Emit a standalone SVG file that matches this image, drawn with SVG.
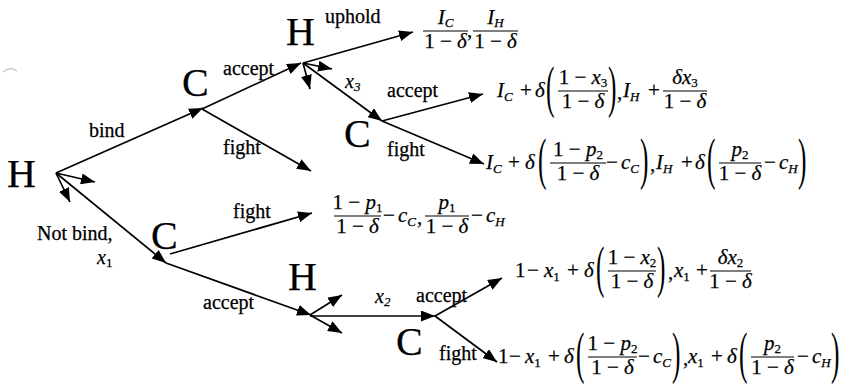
<svg xmlns="http://www.w3.org/2000/svg" width="848" height="391" viewBox="0 0 848 391">
<defs>
<style>
.t{font-family:"Liberation Serif","Times New Roman",serif;fill:#000;stroke:#000;stroke-width:0.25}
.m{font-size:21px}
.it{font-style:italic}
.sb{font-size:13px}
.lb{font-size:20px}
.nd{font-size:40px}
.pr{font-size:22px;stroke:none}
.bar{stroke:#000;stroke-width:1.1}
.edge line{stroke:#000;stroke-width:1.7;marker-end:url(#ah)}
</style>
<marker id="ah" viewBox="0 0 14 11" refX="14" refY="5.5" markerWidth="14" markerHeight="11" markerUnits="userSpaceOnUse" orient="auto"><path d="M0,0 L14,5.5 L0,11 z" fill="#000"/></marker>
</defs>
<rect width="848" height="391" fill="#fff"/>
<path d="M3,72 Q10,66 17,71" fill="none" stroke="#aaa" stroke-width="1"/>

<g id="connectors" class="edge">
<line x1="56" y1="173" x2="203" y2="108"/>
<line x1="56" y1="173" x2="95" y2="182"/>
<line x1="56" y1="173" x2="70" y2="202"/>
<line x1="56" y1="173" x2="166" y2="263"/>
<line x1="202" y1="109" x2="301" y2="63"/>
<line x1="202" y1="109" x2="311" y2="171"/>
<line x1="303" y1="63" x2="413" y2="32"/>
<line x1="303" y1="63" x2="332" y2="69"/>
<line x1="303" y1="63" x2="310" y2="89"/>
<line x1="303" y1="63" x2="382" y2="121"/>
<line x1="382" y1="121" x2="483" y2="94"/>
<line x1="382" y1="121" x2="484" y2="164"/>
<line x1="170" y1="254" x2="312" y2="213"/>
<line x1="166" y1="263" x2="311" y2="315"/>
<line x1="310" y1="315" x2="342" y2="295"/>
<line x1="310" y1="315" x2="342" y2="333"/>
<line x1="310" y1="316" x2="435" y2="316"/>
<line x1="435" y1="316" x2="502" y2="278"/>
<line x1="435" y1="316" x2="497" y2="362"/>
</g>

<g id="labels">
<text class="t lb" x="89" y="137">bind</text>
<text class="t lb" x="223" y="75">accept</text>
<text class="t lb" x="223" y="154">fight</text>
<text class="t lb" x="325" y="23">uphold</text>
<text class="t lb" x="345" y="88"><tspan class="it">x</tspan><tspan class="sb it" dy="3">3</tspan></text>
<text class="t lb" x="387" y="97">accept</text>
<text class="t lb" x="387" y="156">fight</text>
<text class="t lb" x="37" y="240">Not bind,</text>
<text class="t lb" x="97" y="264"><tspan class="it">x</tspan><tspan class="sb" dy="3">1</tspan></text>
<text class="t lb" x="233" y="218">fight</text>
<text class="t lb" x="203" y="309">accept</text>
<text class="t lb" x="375" y="303"><tspan class="it">x</tspan><tspan class="sb it" dy="3">2</tspan></text>
<text class="t lb" x="416" y="302">accept</text>
<text class="t lb" x="439" y="360">fight</text>
</g>

<g id="n-H1"><text class="t nd" x="7" y="187">H</text></g>
<g id="n-C1"><text class="t nd" x="182" y="96">C</text></g>
<g id="n-H2"><text class="t nd" x="286" y="45">H</text></g>
<g id="n-C3"><text class="t nd" x="344" y="147">C</text></g>
<g id="n-C2"><text class="t nd" x="151" y="249">C</text></g>
<g id="n-H3"><text class="t nd" x="288" y="290">H</text></g>
<g id="n-C4"><text class="t nd" x="396" y="355">C</text></g>

<g id="pay-uphold">
<line class="bar" x1="423" y1="31" x2="468" y2="31"/>
<text class="t m" x="445.5" y="24" text-anchor="middle"><tspan class="it">I</tspan><tspan class="sb it" dy="3">C</tspan></text>
<text class="t m" x="445.5" y="48" text-anchor="middle">1 − <tspan class="it">δ</tspan></text>
<text class="t m" x="467" y="37">,</text>
<line class="bar" x1="473" y1="31" x2="518" y2="31"/>
<text class="t m" x="495.5" y="24" text-anchor="middle"><tspan class="it">I</tspan><tspan class="sb it" dy="3">H</tspan></text>
<text class="t m" x="495.5" y="48" text-anchor="middle">1 − <tspan class="it">δ</tspan></text>
</g>

<g id="pay-C3-accept">
<text class="t m" x="497" y="97"><tspan class="it">I</tspan><tspan class="sb it" dy="4">C</tspan></text>
<text class="t m" x="520" y="97">+</text>
<text class="t m it" x="535" y="97">δ</text>
<text class="t pr" transform="translate(546,106) scale(1.15,2.6)">(</text>
<line class="bar" x1="558" y1="91" x2="608" y2="91"/>
<text class="t m" x="583" y="84" text-anchor="middle">1 − <tspan class="it">x</tspan><tspan class="sb" dy="3">3</tspan></text>
<text class="t m" x="583" y="108" text-anchor="middle">1 − <tspan class="it">δ</tspan></text>
<text class="t pr" transform="translate(608,106) scale(1.15,2.6)">)</text>
<text class="t m" x="617" y="99">,</text>
<text class="t m" x="623" y="97"><tspan class="it">I</tspan><tspan class="sb it" dy="4">H</tspan></text>
<text class="t m" x="648" y="97">+</text>
<line class="bar" x1="663" y1="91" x2="707" y2="91"/>
<text class="t m" x="685" y="84" text-anchor="middle"><tspan class="it">δx</tspan><tspan class="sb" dy="3">3</tspan></text>
<text class="t m" x="685" y="108" text-anchor="middle">1 − <tspan class="it">δ</tspan></text>
</g>

<g id="pay-C3-fight">
<text class="t m" x="486" y="169"><tspan class="it">I</tspan><tspan class="sb it" dy="4">C</tspan></text>
<text class="t m" x="508" y="169">+</text>
<text class="t m it" x="525" y="169">δ</text>
<text class="t pr" transform="translate(538,178) scale(1.15,2.6)">(</text>
<line class="bar" x1="550" y1="163" x2="606" y2="163"/>
<text class="t m" x="578" y="156" text-anchor="middle">1 − <tspan class="it">p</tspan><tspan class="sb" dy="3">2</tspan></text>
<text class="t m" x="578" y="180" text-anchor="middle">1 − <tspan class="it">δ</tspan></text>
<text class="t m" x="606" y="169">−</text>
<text class="t m" x="621" y="169"><tspan class="it">c</tspan><tspan class="sb it" dy="4">C</tspan></text>
<text class="t pr" transform="translate(640,178) scale(1.15,2.6)">)</text>
<text class="t m" x="650" y="171">,</text>
<text class="t m" x="656" y="169"><tspan class="it">I</tspan><tspan class="sb it" dy="4">H</tspan></text>
<text class="t m" x="681" y="169">+</text>
<text class="t m it" x="695" y="169">δ</text>
<text class="t pr" transform="translate(707,178) scale(1.15,2.6)">(</text>
<line class="bar" x1="719" y1="163" x2="761" y2="163"/>
<text class="t m" x="740" y="156" text-anchor="middle"><tspan class="it">p</tspan><tspan class="sb" dy="3">2</tspan></text>
<text class="t m" x="740" y="180" text-anchor="middle">1 − <tspan class="it">δ</tspan></text>
<text class="t m" x="764" y="169">−</text>
<text class="t m" x="779" y="169"><tspan class="it">c</tspan><tspan class="sb it" dy="4">H</tspan></text>
<text class="t pr" transform="translate(798,178) scale(1.15,2.6)">)</text>
</g>

<g id="pay-C2-fight">
<line class="bar" x1="334" y1="216" x2="381" y2="216"/>
<text class="t m" x="357.5" y="209" text-anchor="middle">1 − <tspan class="it">p</tspan><tspan class="sb" dy="3">1</tspan></text>
<text class="t m" x="357.5" y="233" text-anchor="middle">1 − <tspan class="it">δ</tspan></text>
<text class="t m" x="383" y="222">−</text>
<text class="t m" x="398" y="222"><tspan class="it">c</tspan><tspan class="sb it" dy="4">C</tspan></text>
<text class="t m" x="417" y="224">,</text>
<line class="bar" x1="425" y1="216" x2="469" y2="216"/>
<text class="t m" x="447" y="209" text-anchor="middle"><tspan class="it">p</tspan><tspan class="sb" dy="3">1</tspan></text>
<text class="t m" x="447" y="233" text-anchor="middle">1 − <tspan class="it">δ</tspan></text>
<text class="t m" x="471" y="222">−</text>
<text class="t m" x="486" y="222"><tspan class="it">c</tspan><tspan class="sb it" dy="4">H</tspan></text>
</g>

<g id="pay-C4-accept">
<text class="t m" x="515" y="277">1</text>
<text class="t m" x="527" y="277">−</text>
<text class="t m" x="544" y="277"><tspan class="it">x</tspan><tspan class="sb" dy="4">1</tspan></text>
<text class="t m" x="567" y="277">+</text>
<text class="t m it" x="584" y="277">δ</text>
<text class="t pr" transform="translate(596,286) scale(1.15,2.6)">(</text>
<line class="bar" x1="608" y1="271" x2="656" y2="271"/>
<text class="t m" x="632" y="264" text-anchor="middle">1 − <tspan class="it">x</tspan><tspan class="sb" dy="3">2</tspan></text>
<text class="t m" x="632" y="288" text-anchor="middle">1 − <tspan class="it">δ</tspan></text>
<text class="t pr" transform="translate(657,286) scale(1.15,2.6)">)</text>
<text class="t m" x="668" y="279">,</text>
<text class="t m" x="674" y="277"><tspan class="it">x</tspan><tspan class="sb" dy="4">1</tspan></text>
<text class="t m" x="696" y="277">+</text>
<line class="bar" x1="710" y1="271" x2="751" y2="271"/>
<text class="t m" x="730.5" y="264" text-anchor="middle"><tspan class="it">δx</tspan><tspan class="sb" dy="3">2</tspan></text>
<text class="t m" x="730.5" y="288" text-anchor="middle">1 − <tspan class="it">δ</tspan></text>
</g>

<g id="pay-C4-fight">
<text class="t m" x="498" y="363">1</text>
<text class="t m" x="509" y="363">−</text>
<text class="t m" x="525" y="363"><tspan class="it">x</tspan><tspan class="sb" dy="4">1</tspan></text>
<text class="t m" x="548" y="363">+</text>
<text class="t m it" x="564" y="363">δ</text>
<text class="t pr" transform="translate(576,372) scale(1.15,2.6)">(</text>
<line class="bar" x1="588" y1="357" x2="637" y2="357"/>
<text class="t m" x="612.5" y="350" text-anchor="middle">1 − <tspan class="it">p</tspan><tspan class="sb" dy="3">2</tspan></text>
<text class="t m" x="612.5" y="374" text-anchor="middle">1 − <tspan class="it">δ</tspan></text>
<text class="t m" x="638" y="363">−</text>
<text class="t m" x="653" y="363"><tspan class="it">c</tspan><tspan class="sb it" dy="4">C</tspan></text>
<text class="t pr" transform="translate(672,372) scale(1.15,2.6)">)</text>
<text class="t m" x="683" y="365">,</text>
<text class="t m" x="688" y="363"><tspan class="it">x</tspan><tspan class="sb" dy="4">1</tspan></text>
<text class="t m" x="711" y="363">+</text>
<text class="t m it" x="727" y="363">δ</text>
<text class="t pr" transform="translate(739,372) scale(1.15,2.6)">(</text>
<line class="bar" x1="751" y1="357" x2="794" y2="357"/>
<text class="t m" x="772.5" y="350" text-anchor="middle"><tspan class="it">p</tspan><tspan class="sb" dy="3">2</tspan></text>
<text class="t m" x="772.5" y="374" text-anchor="middle">1 − <tspan class="it">δ</tspan></text>
<text class="t m" x="797" y="363">−</text>
<text class="t m" x="812" y="363"><tspan class="it">c</tspan><tspan class="sb it" dy="4">H</tspan></text>
<text class="t pr" transform="translate(831,372) scale(1.15,2.6)">)</text>
</g>
</svg>
